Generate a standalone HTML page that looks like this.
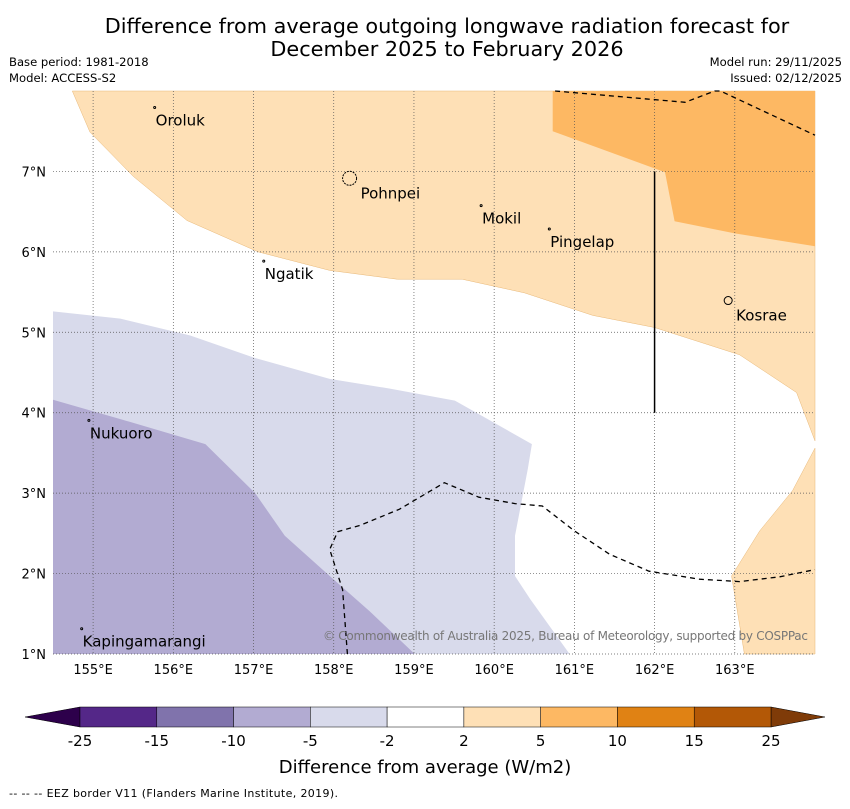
<!DOCTYPE html>
<html><head><meta charset="utf-8"><style>
body{margin:0;background:#fff;width:850px;height:804px;overflow:hidden;font-family:"Liberation Sans","DejaVu Sans",sans-serif}
</style></head><body>
<svg id="c" width="850" height="804" xmlns="http://www.w3.org/2000/svg" font-family="'DejaVu Sans','Liberation Sans',sans-serif">
<text x="447" y="33" font-size="20.8" text-anchor="middle">Difference from average outgoing longwave radiation forecast for</text>
<text x="447" y="56" font-size="20.8" text-anchor="middle">December 2025 to February 2026</text>
<text x="9" y="66" font-size="11.6">Base period: 1981-2018</text>
<text x="9" y="82" font-size="11.6">Model: ACCESS-S2</text>
<text x="842" y="66" font-size="11.6" text-anchor="end">Model run: 29/11/2025</text>
<text x="842" y="82" font-size="11.6" text-anchor="end">Issued: 02/12/2025</text>
<g id="map"></g>
<g id="cbar"></g>
<text x="425" y="773" font-size="18" text-anchor="middle">Difference from average (W/m2)</text>
<text x="9" y="797" font-size="11" textLength="329">--  --  -- EEZ border V11 (Flanders Marine Institute, 2019).</text>
</svg>
<script>
// Axis ranges
const lonTicks=[155,156,157,158,159,160,161,162,163];
const latTicks=[1,2,3,4,5,6,7];
// Contour regions (lon/lat)
const lightOrangeA={lon:[154.74,164.0,164.0,163.77,163.06,162.0,161.23,160.38,159.6,158.79,157.95,157.06,156.17,155.5,154.96],lat:[8.0,8.0,3.65,4.25,4.72,5.06,5.21,5.49,5.66,5.66,5.77,6.0,6.39,6.94,7.49]};
const lightOrangeB={lon:[164.0,163.72,163.31,162.96,163.12,164.0],lat:[3.56,3.03,2.53,1.97,1.0,1.0]};
const orange={lon:[160.73,164.0,164.0,163.0,162.25,162.13,160.73],lat:[8.0,8.0,6.07,6.23,6.38,6.99,7.5]};
const lightPurple={lon:[154.5,155.34,156.21,157.02,157.95,158.7,159.51,160.47,160.42,160.26,160.26,160.45,160.94,154.5],lat:[5.26,5.17,4.96,4.68,4.42,4.3,4.15,3.61,3.3,2.47,1.97,1.68,1.0,1.0]};
const purple={lon:[154.5,155.34,156.4,157.02,157.39,157.95,158.45,159.01,154.5],lat:[4.16,3.92,3.61,3.0,2.47,1.97,1.53,1.0,1.0]};
const eez1={lon:[160.76,162.38,162.75,162.82,164.0],lat:[8.0,7.86,8.0,8.0,7.45]};
const eez2={lon:[158.17,158.11,157.95,158.05,158.33,158.82,159.38,159.81,160.26,160.6,161.0,161.44,161.93,162.56,163.06,163.56,164.0],lat:[1.0,1.8,2.3,2.52,2.6,2.8,3.13,2.95,2.87,2.84,2.53,2.24,2.03,1.93,1.9,1.96,2.05]};
const islandNames=["Oroluk","Pohnpei","Mokil","Pingelap","Ngatik","Kosrae","Nukuoro","Kapingamarangi"];
const islandLon=[155.78,158.21,159.85,160.7,157.14,162.93,154.96,154.87];
const islandLat=[7.72,6.84,6.5,6.21,5.81,5.32,3.83,1.24];
const cbLevels=["-25","-15","-10","-5","-2","2","5","10","15","25"];
const cbColors=["#542788","#8073ac","#b2abd2","#d8daeb","#ffffff","#fee0b6","#fdb863","#e08214","#b35806"];
const cbExtLow="#2d004b", cbExtHigh="#7f3b08";

const X0=53,X1=815,Y0=91,Y1=654,LON0=154.5,LON1=164.0,LAT0=1.0,LAT1=8.0;
const fx=lon=>X0+(lon-LON0)/(LON1-LON0)*(X1-X0);
const fy=lat=>Y1-(lat-LAT0)/(LAT1-LAT0)*(Y1-Y0);
const NS="http://www.w3.org/2000/svg";
const map=document.getElementById('map');
function mk(tag,attrs,parent){const e=document.createElementNS(NS,tag);for(const k in attrs)e.setAttribute(k,attrs[k]);parent.appendChild(e);return e;}
function pts(r){return r.lon.map((l,i)=>fx(l).toFixed(1)+','+fy(r.lat[i]).toFixed(1)).join(' ');}
function region(r,fill,name){const p=mk('polygon',{points:pts(r),fill:fill,stroke:fill==="#fee0b6"?"#e8b878":"none","stroke-width":0.5},map);

}
region(lightOrangeA,"#fee0b6","region-2-to-5-north");
region(lightOrangeB,"#fee0b6","region-2-to-5-southeast");
region(orange,"#fdb863","region-5-to-10");
region(lightPurple,"#d8daeb","region-minus5-to-minus2");
region(purple,"#b2abd2","region-minus10-to-minus5");
// grid
lonTicks.forEach(l=>{const g=mk('line',{x1:fx(l),x2:fx(l),y1:Y0,y2:Y1,stroke:"#555","stroke-width":0.7,"stroke-dasharray":"1,2"},map);


const t=mk('text',{x:fx(l),y:674,"font-size":13,"text-anchor":"middle"},map);t.textContent=l+"°E";

});
latTicks.forEach(l=>{const g=mk('line',{x1:X0,x2:X1,y1:fy(l),y2:fy(l),stroke:"#555","stroke-width":0.7,"stroke-dasharray":"1,2"},map);


const t=mk('text',{x:46,y:fy(l)+5,"font-size":13,"text-anchor":"end"},map);t.textContent=l+"°N";

});
// EEZ
[eez1,eez2].forEach(r=>{const p=mk('polyline',{points:pts(r),fill:"none",stroke:"#000","stroke-width":1.3,"stroke-dasharray":"5,4"},map);

});
const sl=mk('line',{x1:fx(162),x2:fx(162),y1:fy(7),y2:fy(4),stroke:"#000","stroke-width":1.5},map);


// islands
islandNames.forEach((n,i)=>{const x=fx(islandLon[i]),y=fy(islandLat[i]);
const d=mk('circle',{cx:x-1,cy:y-6,r:n==="Pohnpei"?7:(n==="Kosrae"?4:1),fill:"none",stroke:"#000","stroke-width":1,"stroke-dasharray":n==="Pohnpei"?"2,1":"none"},map);


const t=mk('text',{x:x+(n==="Pohnpei"?10:(n==="Kosrae"?7:0)),y:y+(n==="Pohnpei"||n==="Kosrae"?14:12),"font-size":15},map);t.textContent=n;

});
const cp=mk('text',{x:808,y:640,"font-size":12,fill:"#777","text-anchor":"end",textLength:485},map);cp.textContent="© Commonwealth of Australia 2025, Bureau of Meteorology, supported by COSPPac";


// colorbar
const cb=document.getElementById('cbar');
const CB0=80,CB1=771,CBY=707,CBH=20,n=cbColors.length,w=(CB1-CB0)/n;
const lo=mk('polygon',{points:`25,717 ${CB0},${CBY} ${CB0},${CBY+CBH}`,fill:cbExtLow,stroke:"#000","stroke-width":0.5},cb);


const hi=mk('polygon',{points:`825,717 ${CB1},${CBY} ${CB1},${CBY+CBH}`,fill:cbExtHigh,stroke:"#000","stroke-width":0.5},cb);


cbColors.forEach((c,i)=>{const r=mk('rect',{x:CB0+i*w,y:CBY,width:w,height:CBH,fill:c,stroke:"#000","stroke-width":0.5},cb);

});
cbLevels.forEach((l,i)=>{const t=mk('text',{x:CB0+i*w,y:746,"font-size":15,"text-anchor":"middle"},cb);t.textContent=l;

});
</script>
</body></html>
